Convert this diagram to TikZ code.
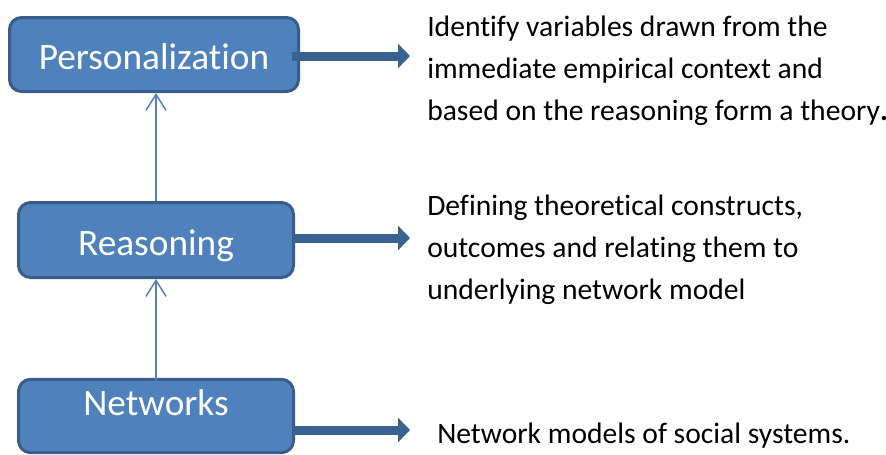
\documentclass[tikz,border=0pt]{standalone}
\usepackage{fontspec}
\setmainfont{Carlito}[Ligatures=NoCommon]
\usetikzlibrary{arrows.meta}
\definecolor{boxfill}{HTML}{4F81BD}
\definecolor{boxline}{HTML}{385D8A}
\definecolor{arrowdark}{HTML}{3A6290}
\begin{document}
\begin{tikzpicture}[x=0.75pt, y=-0.75pt, line cap=butt, line join=round,
	stage/.style={draw=boxline, fill=boxfill, line width=2.25pt, rounded corners=9pt,
		text=white, font=\fontsize{28}{32}\selectfont, inner sep=0pt,
		text height=22.5pt, text depth=0pt},
	desc/.style={anchor=base west, align=left, inner sep=0pt,
		font=\fontsize{22.2}{31.5}\selectfont},
	thickarrow/.style={draw=arrowdark, line width=6.75pt,
		-{Triangle[length=9pt, width=18pt]}},
	thinarrow/.style={draw=boxfill, line width=1.1pt,
		-{Straight Barb[length=12pt, width=15pt, line width=1.1pt]}}]
	% Picture frame
	\useasboundingbox (0,0) rectangle (886,454);
	
	% Stage boxes
	\node[stage, minimum width=216.75pt, minimum height=55.5pt] (per) at (154,54.5) {Personalization};
	\node[stage, minimum width=206.25pt, minimum height=56.25pt] (rea) at (156,240) {Reasoning};
	\node[stage, minimum width=206.25pt, minimum height=55pt, text depth=23pt] (net) at (156,416) {Networks};
	
	% Tips of the side arrows
	\coordinate (pertip) at (410,56);
	\coordinate (reatip) at (410,238);
	\coordinate (nettip) at (410,430);
	
	% Side arrows
	\draw[thickarrow] ([xshift=-6pt]per.east |- pertip) -- (pertip);
	\draw[thickarrow] ([xshift=-2pt]rea.east |- reatip) -- (reatip);
	\draw[thickarrow] ([xshift=-2pt]net.east |- nettip) -- (nettip);
	
	% Arrows between stages
	\draw[thinarrow] ([yshift=-16pt]net.north) -- (rea.south);
	\draw[thinarrow] (rea.north) -- (rea.north |- per.south);
	
	% Descriptions (base = baseline of the last line)
	\node[desc] (perdesc) at (427,120) {Identify variables drawn from the\\immediate empirical context and\\based on the reasoning form a theory\textbf{.}};
	\node[desc] (readesc) at (427,299) {Defining theoretical constructs,\\outcomes and relating them to\\underlying network model};
	\node[desc] (netdesc) at (437,443) {Network models of social systems.};
\end{tikzpicture}
\end{document}
